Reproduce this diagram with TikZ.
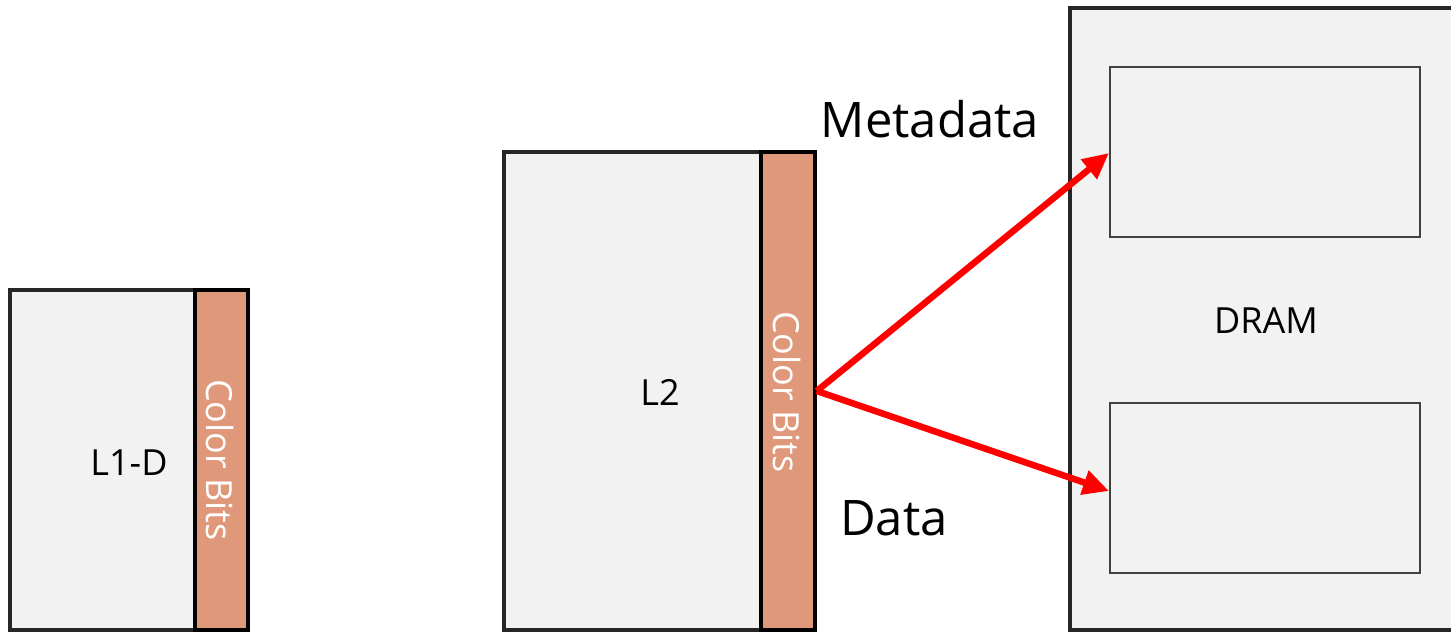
\documentclass[tikz,border=0pt]{standalone}
\usepackage{fontspec}
\setmainfont{Open Sans}
\usetikzlibrary{arrows.meta}
\definecolor{boxfill}{HTML}{F2F2F2}
\definecolor{bitsfill}{HTML}{E0987A}
\definecolor{frame}{HTML}{262626}
\definecolor{innerframe}{HTML}{404040}
\begin{document}
\begin{tikzpicture}[x=1pt,y=-1pt,
  cachebox/.style={draw=frame,fill=boxfill,line width=3.5pt,rectangle,inner sep=0pt},
  bitsbox/.style={draw=black,fill=bitsfill,line width=3.5pt,rectangle,inner sep=0pt},
  bitslabel/.style={text=white,font=\fontsize{36}{40}\selectfont,rotate=-90,anchor=base,inner sep=0pt},
  label/.style={font=\fontsize{36}{40}\selectfont,anchor=base,inner sep=0pt},
  biglabel/.style={font=\fontsize{49}{54}\selectfont,anchor=base,inner sep=0pt},
  region/.style={draw=innerframe,fill=boxfill,line width=2pt,rectangle,inner sep=0pt,
    minimum width=310pt,minimum height=170pt},
  flow/.style={draw=red,line width=6.5pt,-{Triangle[length=26pt,width=24pt]}}]
  \clip (0,0) rectangle (1451,632);
  \fill[white] (0,0) rectangle (1451,632);

  % L1 data cache with its colour-bit column
  \node[cachebox,minimum width=185pt,minimum height=340pt] (l1) at (102.5,460) {};
  \node[bitsbox,minimum width=53pt,minimum height=340pt] (l1bits) at (221.5,460) {};
  \node[label] (l1text) at (129,475) {L1-D};
  \node[bitslabel] (l1bitstext) at (206,460) {Color Bits};

  % L2 cache with its colour-bit column
  \node[cachebox,minimum width=257pt,minimum height=478pt] (l2) at (632.5,391) {};
  \node[bitsbox,minimum width=54pt,minimum height=478pt] (l2bits) at (788,391) {};
  \node[label] (l2text) at (660,405) {L2};
  \node[bitslabel] (l2bitstext) at (773,392) {Color Bits};

  % DRAM with metadata and data regions
  \node[cachebox,minimum width=460pt,minimum height=622pt] (dram) at (1300,319) {};
  \node[region] (meta) at (1265,152) {};
  \node[region] (data) at (1265,488) {};
  \node[label] (dramtext) at (1266,333) {DRAM};

  % Labels for the two paths
  \node[biglabel] (metatext) at (930,137) {Metadata};
  \node[biglabel] (datatext) at (894,535) {Data};

  % Write-back paths from the L2 colour bits
  \draw[flow] (l2bits.east) -- ([yshift=-1pt]meta.west);
  \draw[flow] (l2bits.east) -- ([yshift=-3pt]data.west);
\end{tikzpicture}
\end{document}
